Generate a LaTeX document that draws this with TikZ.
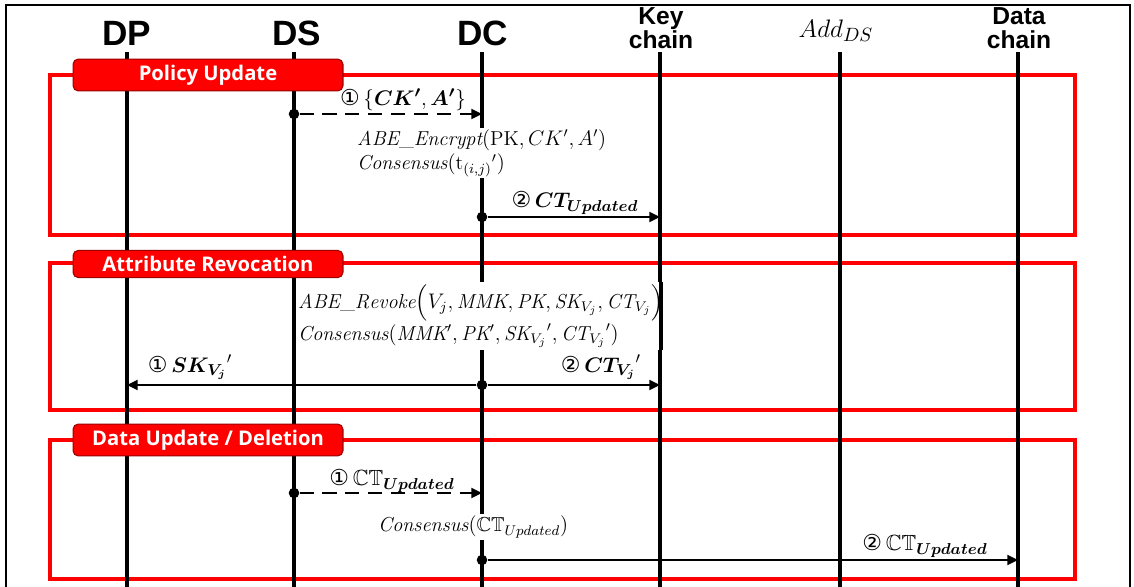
\documentclass[tikz,border=0pt]{standalone}
\usepackage{amsmath}
\usepackage{amssymb}
\usepackage{bm}
\usepackage{fontspec}
\newfontfamily\headfont{Liberation Sans}
\newfontfamily\tabfont{Open Sans}
\newfontfamily\symfont{DejaVu Sans}
\usetikzlibrary{arrows.meta, positioning}

\begin{document}
\begin{tikzpicture}[
  x=0.02cm, y=-0.02cm,
  head/.style={font=\headfont\bfseries\fontsize{20}{20}\selectfont, inner sep=0pt},
  subhead/.style={font=\headfont\bfseries\fontsize{14}{13.5}\selectfont,
                  align=center, inner sep=0pt},
  life/.style={line width=2pt},
  frame/.style={draw=red, line width=2.8pt},
  tab/.style={draw=red!60!black, fill=red, rounded corners=3pt, line width=0.6pt,
              minimum width=5.4cm, minimum height=0.54cm, text=white,
              font=\tabfont\bfseries\fontsize{11.5}{11.5}\selectfont},
  msg/.style={line width=1.7pt, -{Triangle[length=6pt,width=5.5pt]}},
  dmsg/.style={msg, dash pattern=on 8pt off 5pt},
  lbl/.style={font=\fontsize{12.5}{12.5}\selectfont, inner sep=0pt},
  calc/.style={font=\fontsize{11.5}{11.5}\selectfont, text=black, fill=white,
               align=left, inner sep=1pt},
  dot/.style={circle, fill, inner sep=0pt, minimum size=6pt}
]
  \useasboundingbox (0,0) rectangle (1134,587);
  \draw[line width=0.8pt] (6,5) rectangle (1130,620);

  % lifeline heads
  \node[head]    (dp) at (127,33)  {DP};
  \node[head]    (ds) at (297,33)  {DS};
  \node[head]    (dc) at (483,33)  {DC};
  \node[subhead] (kc) at (661,28)  {Key\\chain};
  \node[font=\fontsize{15}{15}\selectfont, inner sep=0pt] (ad) at (836,31) {$Add_{DS}$};
  \node[subhead] (dt) at (1019,28) {Data\\chain};

  % frames
  \draw[frame] (50,75)  rectangle (1075,235);
  \draw[frame] (50,263) rectangle (1075,410);
  \draw[frame] (50,440) rectangle (1075,579);

  % lifelines
  \foreach \n/\x in {dp/127, ds/294, dc/482, kc/660, ad/840, dt/1018}
    \draw[life] (\x,52) -- (\x,600);

  \node[tab] (pu) at (208,75)  {Policy Update};
  \node[tab] (ar) at (208,264) {Attribute Revocation};
  \node[tab] (du) at (208,440) {Data Update / Deletion};

  % policy update
  \node[dot] (pu-ds) at (294,114) {};
  \coordinate (pu-dc) at (482,114);
  \draw[dmsg] (pu-ds) -- (pu-dc);
  \node[lbl] (pu-l1) at (403,100) {{\symfont ①}\,$\{\bm{CK'},\bm{A'}\}$};
  \node[calc, anchor=west] (pu-c) at (355,153)
    {$\mathit{ABE\_Encrypt}(\mathrm{PK},CK',A')$\\[1pt]
     $\mathit{Consensus}({\mathrm{t}_{(i,j)}}')$};
  \node[dot] (pu-dc2) at (482,217) {};
  \coordinate (pu-kc) at (660,217);
  \draw[msg] (pu-dc2) -- (pu-kc);
  \node[lbl] (pu-l2) at (575,203) {{\symfont ②}\,$\bm{CT_{Updated}}$};

  % attribute revocation
  \node[calc, anchor=west] (ar-c) at (296,316)
    {$\mathit{ABE\_Revoke}\Big(V_j,\mathit{MMK},\mathit{PK},\mathit{SK}_{V_j},\mathit{CT}_{V_j}\Big)$\\[0pt]
     $\mathit{Consensus}(\mathit{MMK}',\mathit{PK}',{\mathit{SK}_{V_j}}',{\mathit{CT}_{V_j}}')$};
  \draw[life] (kc |- ar-c.north) -- (kc |- ar-c.south);
  \node[dot] (ar-dc) at (482,385) {};
  \coordinate (ar-dp) at (127,385);
  \coordinate (ar-kc) at (660,385);
  \draw[msg] (ar-dc) -- (ar-dp);
  \draw[msg] (ar-dc) -- (ar-kc);
  \node[lbl] (ar-l1) at (190,367) {{\symfont ①}\,${\bm{SK_{V_j}}}'$};
  \node[lbl] (ar-l2) at (601,367) {{\symfont ②}\,${\bm{CT_{V_j}}}'$};

  % data update / deletion
  \node[dot] (du-ds) at (294,493) {};
  \coordinate (du-dc) at (482,493);
  \draw[dmsg] (du-ds) -- (du-dc);
  \node[lbl] (du-l1) at (392,481) {{\symfont ①}\,$\mathbb{CT}_{\bm{Updated}}$};
  \node[calc, anchor=west] (du-c) at (376,527)
    {$\mathit{Consensus}(\mathbb{CT}_{Updated})$};
  \node[dot] (du-dc2) at (482,560) {};
  \coordinate (du-dt) at (1018,560);
  \draw[msg] (du-dc2) -- (du-dt);
  \node[lbl] (du-l2) at (925,546) {{\symfont ②}\,$\mathbb{CT}_{\bm{Updated}}$};
\end{tikzpicture}
\end{document}
